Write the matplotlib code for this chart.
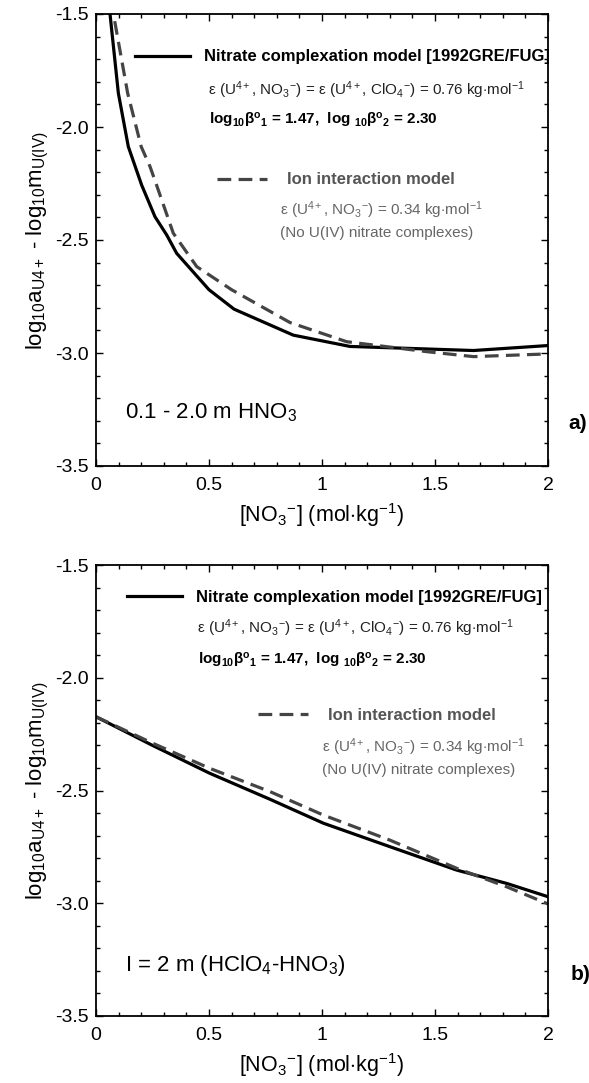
import matplotlib
matplotlib.use("Agg")
import matplotlib.pyplot as plt
from matplotlib.lines import Line2D
from matplotlib.ticker import MultipleLocator, FixedLocator, FixedFormatter

plt.rcParams['font.family'] = ['Liberation Sans', 'DejaVu Sans']
plt.rcParams['mathtext.fontset'] = 'custom'
plt.rcParams['mathtext.rm'] = 'Liberation Sans'
plt.rcParams['mathtext.it'] = 'Liberation Sans:italic'
plt.rcParams['mathtext.bf'] = 'Liberation Sans:bold'
plt.rcParams['axes.unicode_minus'] = False

# ---- data: panel a) 0.1 - 2.0 m HNO3 ----
a_x_complex = [0.045, 0.062, 0.099, 0.143, 0.202, 0.261, 0.313, 0.357, 0.50, 0.611, 0.873, 1.124, 1.670, 2.0]
a_y_complex = [-1.40, -1.50, -1.851, -2.087, -2.257, -2.397, -2.478, -2.559, -2.72, -2.806, -2.921, -2.971, -2.989, -2.967]
a_x_sit = [0.065, 0.077, 0.14, 0.20, 0.239, 0.268, 0.342, 0.446, 0.60, 0.858, 1.109, 1.463, 1.670, 2.0]
a_y_sit = [-1.44, -1.50, -1.85, -2.087, -2.175, -2.257, -2.47, -2.618, -2.72, -2.865, -2.950, -2.994, -3.016, -3.004]

# ---- data: panel b) I = 2 m (HClO4-HNO3) ----
b_x = [0.0, 0.25, 0.504, 0.77, 1.006, 1.30, 1.596, 1.817, 2.0]
b_y_complex = [-2.173, -2.30, -2.424, -2.539, -2.645, -2.749, -2.853, -2.912, -2.971]
b_y_sit = [-2.173, -2.29, -2.402, -2.505, -2.609, -2.72, -2.845, -2.927, -3.003]

x_ticks = [0, 0.5, 1, 1.5, 2]
x_ticklabels = ['0', '0.5', '1', '1.5', '2']
y_ticks = [-3.5, -3.0, -2.5, -2.0, -1.5]
y_ticklabels = ['-3.5', '-3.0', '-2.5', '-2.0', '-1.5']

leg_complex = 'Nitrate complexation model [1992GRE/FUG]'
leg_sit = 'Ion interaction model'
txt_eps1 = r'ε (U$^{4+}$, NO$_3$$^{-}$) = ε (U$^{4+}$, ClO$_4$$^{-}$) = 0.76 kg$\cdot$mol$^{-1}$'
txt_beta = r'log$_{\mathbf{10}}$β$^{\mathbf{o}}$$_{\mathbf{1}}$ = 1.47,  log $_{\mathbf{10}}$β$^{\mathbf{o}}$$_{\mathbf{2}}$ = 2.30'
txt_eps2 = r'ε (U$^{4+}$, NO$_3$$^{-}$) = 0.34 kg$\cdot$mol$^{-1}$'
txt_nocx = '(No U(IV) nitrate complexes)'
cond_a = r'0.1 - 2.0 m HNO$_3$'
cond_b = r'I = 2 m (HClO$_4$-HNO$_3$)'
xlab = r'[NO$_3$$^{-}$] (mol$\cdot$kg$^{-1}$)'
ylab = r'log$_{10}$a$_{\mathrm{U4+}}$ - log$_{10}$m$_{\mathrm{U(IV)}}$'

W, H = 589, 1083
fig = plt.figure(figsize=(W / 100, H / 100), dpi=100)
ax_a = fig.add_axes([96 / W, 1 - 466 / H, 452 / W, 452 / H])
ax_b = fig.add_axes([96 / W, 1 - 1016 / H, 452 / W, 451 / H])

GRAY = '#444444'
TGRAY = '#555555'
DASH = (0, (4.3, 2.3))

def style(ax):
    ax.set_xlim(0, 2)
    ax.set_ylim(-3.5, -1.5)
    ax.xaxis.set_major_locator(FixedLocator(x_ticks))
    ax.xaxis.set_major_formatter(FixedFormatter(x_ticklabels))
    ax.yaxis.set_major_locator(FixedLocator(y_ticks))
    ax.yaxis.set_major_formatter(FixedFormatter(y_ticklabels))
    ax.xaxis.set_minor_locator(MultipleLocator(0.1))
    ax.yaxis.set_minor_locator(MultipleLocator(0.1))
    ax.tick_params(which='both', direction='in', top=True, right=True, width=1.0)
    ax.tick_params(which='major', length=5, labelsize=14)
    ax.tick_params(axis='x', which='major', pad=8)
    ax.tick_params(axis='y', which='major', pad=5)
    ax.tick_params(which='minor', length=3)
    for s in ax.spines.values():
        s.set_linewidth(1.3)
    ax.set_xlabel(xlab, fontsize=15.5, labelpad=5)
    ax.set_ylabel(ylab, fontsize=16, labelpad=3)

def annotate(ax, p):
    h1 = Line2D([], [], color='black', lw=2.3)
    h2 = Line2D([], [], color=GRAY, lw=2.3, ls=DASH)
    l1 = ax.legend([h1], [leg_complex], loc='center left', bbox_to_anchor=p['l1'],
                   frameon=False, borderpad=0, borderaxespad=0, handlelength=3.3,
                   handletextpad=0.85,
                   prop=dict(weight='bold', size=12))
    ax.add_artist(l1)
    l2 = ax.legend([h2], [leg_sit], loc='center left', bbox_to_anchor=p['l2'],
                   frameon=False, borderpad=0, borderaxespad=0, handlelength=3.0,
                   handletextpad=1.2,
                   prop=dict(weight='bold', size=12))
    for t in l2.get_texts():
        t.set_color(TGRAY)
    ax.text(*p['eps1'], txt_eps1, transform=ax.transAxes, fontsize=11, va='center', color='#222222')
    ax.text(*p['beta'], txt_beta, transform=ax.transAxes, fontsize=11, va='center', weight='bold')
    ax.text(*p['eps2'], txt_eps2, transform=ax.transAxes, fontsize=11, va='center', color='#666666')
    ax.text(*p['nocx'], txt_nocx, transform=ax.transAxes, fontsize=11, va='center', color='#666666')
    ax.text(*p['cond'], p['cond_txt'], transform=ax.transAxes, fontsize=16, va='center')
    ax.text(*p['lab'], p['lab_txt'], transform=ax.transAxes, fontsize=15, va='center', weight='bold')

# panel a
ax_a.plot(a_x_complex, a_y_complex, color='black', lw=2.3)
ax_a.plot(a_x_sit, a_y_sit, color=GRAY, lw=2.3, ls=DASH)
style(ax_a)
annotate(ax_a, dict(l1=(0.086, 0.905), l2=(0.268, 0.633), eps1=(0.248, 0.832), beta=(0.25, 0.765),
                    eps2=(0.407, 0.566), nocx=(0.407, 0.515), cond=(0.064, 0.117), cond_txt=cond_a,
                    lab=(1.044, 0.095), lab_txt='a)'))

# panel b
ax_b.plot(b_x, b_y_complex, color='black', lw=2.3)
ax_b.plot(b_x, b_y_sit, color=GRAY, lw=2.3, ls=DASH)
style(ax_b)
annotate(ax_b, dict(l1=(0.069, 0.929), l2=(0.358, 0.667), eps1=(0.223, 0.860), beta=(0.225, 0.789),
                    eps2=(0.50, 0.596), nocx=(0.50, 0.545), cond=(0.064, 0.113), cond_txt=cond_b,
                    lab=(1.049, 0.091), lab_txt='b)'))

fig.savefig('out.png', dpi=100)
